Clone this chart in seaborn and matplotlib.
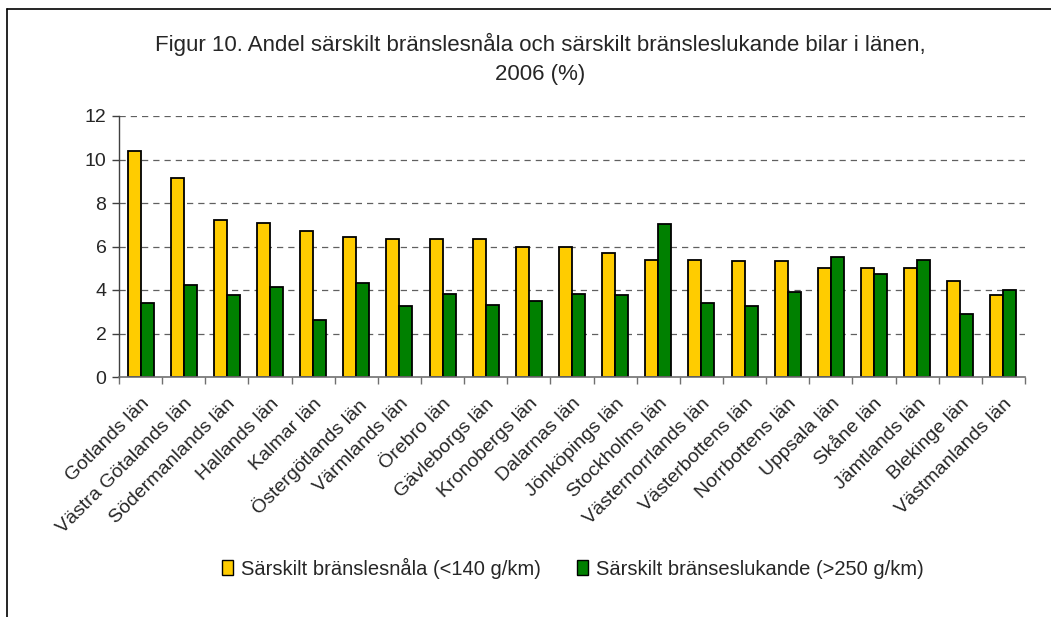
import matplotlib
matplotlib.use('Agg')
import matplotlib.pyplot as plt
from matplotlib.patches import Rectangle
from matplotlib.lines import Line2D
import pandas as pd
import seaborn as sns

# Data
LAN = ['Gotlands län', 'Västra Götalands län', 'Södermanlands län', 'Hallands län',
       'Kalmar län', 'Östergötlands län', 'Värmlands län', 'Örebro län',
       'Gävleborgs län', 'Kronobergs län', 'Dalarnas län', 'Jönköpings län',
       'Stockholms län', 'Västernorrlands län', 'Västerbottens län', 'Norrbottens län',
       'Uppsala län', 'Skåne län', 'Jämtlands län', 'Blekinge län', 'Västmanlands län']
SNALA = [10.4, 9.15, 7.2, 7.1, 6.7, 6.45, 6.35, 6.35, 6.35, 6.0, 6.0,
         5.7, 5.4, 5.4, 5.35, 5.35, 5.0, 5.0, 5.0, 4.4, 3.75]
SLUKANDE = [3.4, 4.25, 3.75, 4.15, 2.6, 4.3, 3.25, 3.8, 3.3, 3.5, 3.8,
            3.75, 7.05, 3.4, 3.25, 3.9, 5.5, 4.75, 5.4, 2.9, 4.0]
SERIES = ['Särskilt bränslesnåla (<140 g/km)', 'Särskilt bränseslukande (>250 g/km)']
COLORS = ['#FFCC00', '#008000']
TITLE = 'Figur 10. Andel särskilt bränslesnåla och särskilt bränsleslukande bilar i länen,\n2006 (%)'

df = pd.DataFrame({
    'lan': LAN * 2,
    'value': SNALA + SLUKANDE,
    'serie': [SERIES[0]] * len(LAN) + [SERIES[1]] * len(LAN),
})

sns.set_style('white')
plt.rcParams['font.family'] = ['Liberation Sans', 'DejaVu Sans']

W, H = 1051, 617
fig = plt.figure(figsize=(W / 100, H / 100), dpi=100)
ax = fig.add_axes([119 / W, 1 - 377 / H, (1025 - 119) / W, (377 - 116) / H])

sns.barplot(data=df, x='lan', y='value', hue='serie', palette=COLORS,
            width=0.6, edgecolor='black', linewidth=1.3, ax=ax,
            legend=False, errorbar=None, saturation=1)

ax.set_ylim(0, 12)
ax.set_xlim(-0.5, len(LAN) - 0.5)
ax.set_yticks(range(0, 13, 2))
ax.set_xlabel('')
ax.set_ylabel('')

# dashed gridlines
for y in range(2, 13, 2):
    ax.axhline(y, color='#606060', linestyle=(0, (5, 4)), linewidth=0.9, zorder=0)

for s in ['top', 'right']:
    ax.spines[s].set_visible(False)
ax.spines['left'].set_color('#404040')
ax.spines['bottom'].set_color('#707070')
ax.spines['left'].set_linewidth(1)
ax.spines['bottom'].set_linewidth(1.2)

ax.tick_params(axis='y', direction='out', length=5, width=1, color='#404040',
               labelsize=14, pad=4, left=True)
ax.tick_params(axis='x', which='major', length=0, labelsize=14, pad=13)
ax.set_xticks([i - 0.5 for i in range(len(LAN) + 1)], minor=True)
ax.tick_params(axis='x', which='minor', direction='out', length=5, width=1,
               color='#707070', bottom=True)
plt.setp(ax.get_xticklabels(), rotation=45, ha='right', rotation_mode='anchor')

fig.text(540 / W, 1 - 59 / H, TITLE, ha='center', va='center', fontsize=16,
         linespacing=1.5)

handles = [Rectangle((0, 0), 1, 1, facecolor=c, edgecolor='black', linewidth=1) for c in COLORS]
ax.legend(handles, SERIES, loc='center', bbox_to_anchor=(0.545, 1 - 568 / H),
          bbox_transform=fig.transFigure, ncol=2, frameon=False, fontsize=14.5,
          handlelength=0.55, handleheight=0.75, handletextpad=0.4, columnspacing=1.8)

# outer frame (left and top edges are visible in the reference)
fig.add_artist(Line2D([7 / W, 7 / W], [0, 1 - 9 / H], color='black', linewidth=1.2))
fig.add_artist(Line2D([7 / W, 1], [1 - 9 / H, 1 - 9 / H], color='black', linewidth=1.2))

fig.savefig('out.png', dpi=100)
